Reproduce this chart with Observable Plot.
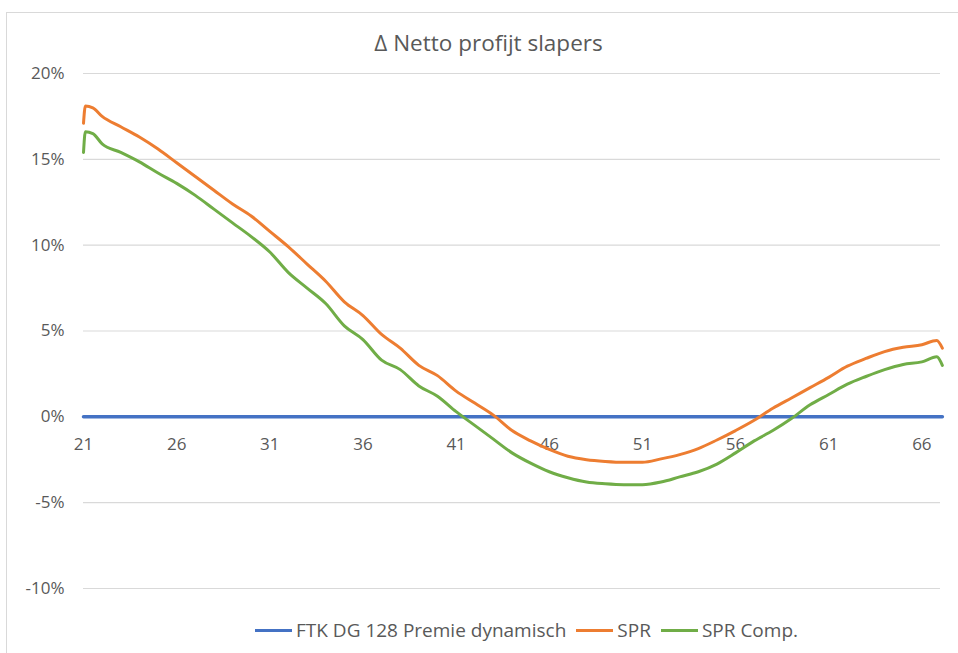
<!DOCTYPE html>
<html><head><meta charset="utf-8">
<script src="https://cdn.jsdelivr.net/npm/d3@7"></script>
<script src="https://cdn.jsdelivr.net/npm/@observablehq/plot@0.6"></script>
<style>
body{margin:0;background:#fff;}
#wrap{position:relative;width:958px;height:653px;overflow:hidden;font-family:"Open Sans",Lato,sans-serif;color:#595959;}
#frame{position:absolute;left:6px;top:12px;width:960px;height:660px;border-left:1px solid #d9d9d9;border-top:1px solid #d9d9d9;}
#title{position:absolute;top:27px;left:0;width:977px;text-align:center;font-size:22.5px;}
#chart{position:absolute;left:0;top:0;}
#legend{position:absolute;top:617px;left:255px;display:flex;align-items:center;font-size:19px;white-space:nowrap;}
#legend .sw{display:inline-block;width:37px;height:3px;margin-right:4px;}
#legend .it{display:flex;align-items:center;margin-right:10px;}
</style></head>
<body><div id="wrap"><div id="frame"></div><div id="chart"></div>
<div id="title">Δ Netto profijt slapers</div><div id="legend"></div></div>
<script>
const seriesNames = ["FTK DG 128 Premie dynamisch", "SPR", "SPR Comp."];
const seriesColors = ["#4472C4", "#ED7D31", "#70AD47"];
const yTicks = [-0.10, -0.05, 0, 0.05, 0.10, 0.15, 0.20];
const xTicks = [21, 26, 31, 36, 41, 46, 51, 56, 61, 66];

const ftkAges = [21, 67.1];
const ftkValues = [0, 0];

const sprAges = [21, 21.1, 21.5, 22, 23, 24, 25, 26, 27, 28, 29, 30, 31, 32, 33, 34, 35, 36, 37, 38, 39, 40, 41, 42, 43, 44, 45, 46, 47, 48, 49, 50, 51, 52, 53, 54, 55, 56, 57, 58, 59, 60, 61, 62, 63, 64, 65, 66, 66.8, 67.1];
const sprValues = [17.1, 18.1, 18.0, 17.5, 16.9, 16.3, 15.6, 14.8, 14.0, 13.2, 12.4, 11.7, 10.8, 9.9, 8.9, 7.9, 6.7, 5.9, 4.8, 4.0, 3.0, 2.4, 1.5, 0.8, 0.1, -0.8, -1.4, -1.9, -2.3, -2.5, -2.6, -2.65, -2.65, -2.45, -2.2, -1.85, -1.35, -0.8, -0.2, 0.5, 1.1, 1.7, 2.3, 2.95, 3.4, 3.8, 4.05, 4.2, 4.45, 4.0];

const compAges = [21, 21.1, 21.5, 22, 23, 24, 25, 26, 27, 28, 29, 30, 31, 32, 33, 34, 35, 36, 37, 38, 39, 40, 41, 42, 43, 44, 45, 46, 47, 48, 49, 50, 51, 52, 53, 54, 55, 56, 57, 58, 59, 60, 61, 62, 63, 64, 65, 66, 66.8, 67.1];
const compValues = [15.4, 16.6, 16.5, 15.9, 15.4, 14.85, 14.2, 13.6, 12.9, 12.1, 11.3, 10.5, 9.6, 8.4, 7.5, 6.6, 5.3, 4.5, 3.3, 2.75, 1.8, 1.2, 0.3, -0.5, -1.3, -2.1, -2.7, -3.2, -3.55, -3.8, -3.9, -3.95, -3.95, -3.8, -3.5, -3.2, -2.75, -2.1, -1.4, -0.8, -0.1, 0.7, 1.3, 1.9, 2.35, 2.75, 3.05, 3.2, 3.5, 3.0];

const toRows = (ages, vals, name) => ages.map((a, i) => ({age: a, value: vals[i] / 100, series: name}));
const rows = [
  ...toRows(ftkAges, ftkValues, seriesNames[0]),
  ...toRows(sprAges, sprValues, seriesNames[1]),
  ...toRows(compAges, compValues, seriesNames[2])
];

const chart = Plot.plot({
  width: 958, height: 610,
  marginLeft: 83, marginRight: 18, marginTop: 73, marginBottom: 22,
  style: {fontFamily: "'Open Sans', Lato, sans-serif", fontSize: "17px", color: "#595959", background: "transparent"},
  x: {domain: [21, 67], axis: null, label: null},
  y: {domain: [-0.10, 0.20], axis: null, label: null},
  color: {domain: seriesNames, range: seriesColors},
  marks: [
    Plot.ruleY(yTicks, {stroke: "#d9d9d9", strokeWidth: 1.2}),
    Plot.axisY({ticks: yTicks, tickSize: 0, tickPadding: 19, label: null, tickFormat: d => Math.round(d * 100) + "%", fontSize: 17}),
    Plot.text(xTicks, {x: d => d, y: 0, dy: 28, text: d => String(d), fontSize: 17, fill: "#595959"}),
    Plot.line(rows.filter(r => r.series === seriesNames[0]), {x: "age", y: "value", stroke: "series", strokeWidth: 3.5}),
    Plot.line(rows.filter(r => r.series !== seriesNames[0]), {x: "age", y: "value", z: "series", stroke: "series", strokeWidth: 3, curve: "monotone-x"})
  ]
});
document.getElementById("chart").appendChild(chart);

const leg = document.getElementById("legend");
seriesNames.forEach((n, i) => {
  const it = document.createElement("div");
  it.className = "it";
  it.innerHTML = `<span class="sw" style="background:${seriesColors[i]}"></span><span>${n}</span>`;
  leg.appendChild(it);
});
</script></body></html>
